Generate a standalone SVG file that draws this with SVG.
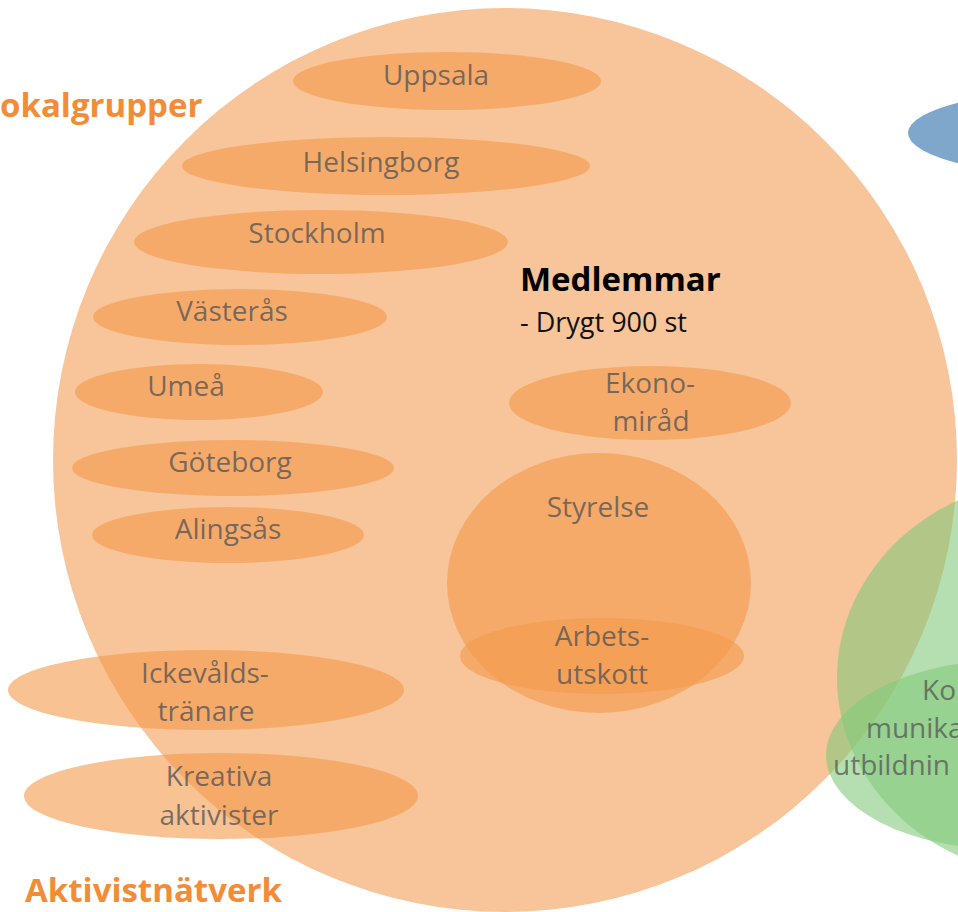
<svg xmlns="http://www.w3.org/2000/svg" width="958" height="912" viewBox="0 0 958 912">
<style>
.big{fill:#F8C499}
.sub{fill:#F39A4A;fill-opacity:0.6}
.lbl{font-family:"Open Sans","Noto Sans",sans-serif;font-size:28px;fill:#555;fill-opacity:0.78;text-anchor:middle}
.grp{font-family:"Open Sans","Noto Sans",sans-serif;font-size:33px;font-weight:bold;fill:#F28C36}
.green{fill:#84C97B;fill-opacity:0.6}
.gl{font-family:"Open Sans","Noto Sans",sans-serif;font-size:28px;fill:#555;fill-opacity:0.75}
</style>
<rect width="958" height="912" fill="#ffffff"/>
<g id="medlemmar">
<circle class="big" cx="505" cy="460" r="452"/>
<text x="520" y="291" font-family="'Open Sans','Noto Sans',sans-serif" font-size="33" font-weight="bold" fill="#000">Medlemmar</text>
<text x="520" y="332" font-family="'Open Sans','Noto Sans',sans-serif" font-size="27" fill="#111">- Drygt 900 st</text>
</g>
<g id="blue-node">
<ellipse cx="1100" cy="133" rx="192" ry="45" fill="#7FA7CC"/>
</g>
<g id="uppsala"><ellipse class="sub" cx="447" cy="81" rx="154" ry="29"/><text class="lbl" x="436" y="85">Uppsala</text></g>
<g id="helsingborg"><ellipse class="sub" cx="386" cy="166" rx="204" ry="29"/><text class="lbl" x="381" y="172">Helsingborg</text></g>
<g id="stockholm"><ellipse class="sub" cx="321" cy="242" rx="187" ry="32"/><text class="lbl" x="317" y="243">Stockholm</text></g>
<g id="vasteras"><ellipse class="sub" cx="240" cy="317" rx="147" ry="28"/><text class="lbl" x="232" y="321">Västerås</text></g>
<g id="umea"><ellipse class="sub" cx="199" cy="392" rx="124" ry="28"/><text class="lbl" x="186" y="396">Umeå</text></g>
<g id="goteborg"><ellipse class="sub" cx="233" cy="468" rx="161" ry="28"/><text class="lbl" x="230" y="472">Göteborg</text></g>
<g id="alingsas"><ellipse class="sub" cx="228" cy="535" rx="136" ry="28"/><text class="lbl" x="228" y="539">Alingsås</text></g>
<g id="ickevald"><ellipse class="sub" cx="206" cy="690" rx="198" ry="40"/><text class="lbl" x="205" y="683">Ickevålds-</text><text class="lbl" x="206" y="721">tränare</text></g>
<g id="kreativa"><ellipse class="sub" cx="221" cy="796" rx="197" ry="43"/><text class="lbl" x="219" y="786">Kreativa</text><text class="lbl" x="219" y="825">aktivister</text></g>
<g id="ekonomirad"><ellipse class="sub" cx="650" cy="403" rx="141" ry="37"/><text class="lbl" x="650" y="393">Ekono-</text><text class="lbl" x="651" y="431">miråd</text></g>
<g id="styrelse"><ellipse class="sub" cx="599" cy="583" rx="152" ry="130"/><text class="lbl" x="598" y="517">Styrelse</text></g>
<g id="arbetsutskott"><ellipse class="sub" cx="602" cy="656" rx="142" ry="38"/><text class="lbl" x="602" y="646">Arbets-</text><text class="lbl" x="602" y="684">utskott</text></g>
<g id="kommunikation">
<ellipse class="green" cx="1060" cy="678" rx="223" ry="200"/>
<ellipse class="green" cx="1010" cy="755" rx="184" ry="95"/>
<text class="gl" x="922" y="700">Ko</text>
<text class="gl" x="866" y="738">munika</text>
<text class="gl" x="833" y="775">utbildnin</text>
</g>
<g id="labels">
<text class="grp" x="0" y="117">okalgrupper</text>
<text class="grp" x="25" y="902">Aktivistnätverk</text>
</g>
<g id="connectors"/>
</svg>
